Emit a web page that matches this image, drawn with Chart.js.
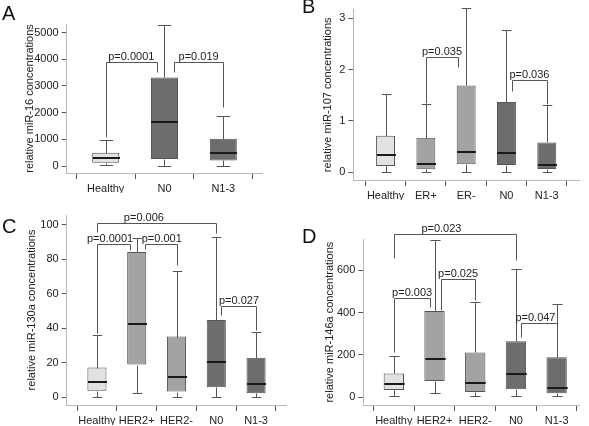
<!DOCTYPE html>
<html>
<head>
<meta charset="utf-8">
<script src="https://cdn.jsdelivr.net/npm/chart.js@4.4.0/dist/chart.umd.min.js"></script>
<style>
  html,body{margin:0;padding:0;background:#fff;}
  #wrap{position:relative;width:589px;height:426px;overflow:hidden;}
  #wrap canvas{position:absolute;left:0;top:0;}
  .tag{position:absolute;font:20px "Liberation Sans",Arial,sans-serif;line-height:20px;color:#111;}
</style>
</head>
<body>
<div id="wrap">
  <canvas id="chA" width="589" height="426"></canvas>
  <canvas id="chB" width="589" height="426"></canvas>
  <canvas id="chC" width="589" height="426"></canvas>
  <canvas id="chD" width="589" height="426"></canvas>
  <div class="tag" style="left:2px;top:3px">A</div>
  <div class="tag" style="left:302px;top:-4px">B</div>
  <div class="tag" style="left:2px;top:216px">C</div>
  <div class="tag" style="left:302px;top:226px">D</div>
</div>
<script>
// ---- data ----
// A: miR-16
const catsA = ['Healthy','N0','N1-3'];
const minA = [20, 10, 10];
const q1A = [125, 260, 210];
const medA = [290, 1630, 475];
const q3A = [500, 3320, 1020];
const maxA = [970, 5300, 1870];
const ticksA = [0, 1000, 2000, 3000, 4000, 5000];
// [from, to, level, left leg end, right leg end, text, label x]
const pA = [
  [0, 0.87, 3880, 1100, 3530, 'p=0.0001', 0.435],
  [1.16, 2, 3880, 3530, 2220, 'p=0.019', 1.58]
];

// B: miR-107
const catsB = ['Healthy','ER+','ER-','N0','N1-3'];
const minB = [0, 0, 0, 0, 0];
const q1B = [0.12, 0.055, 0.155, 0.14, 0.06];
const medB = [0.33, 0.15, 0.39, 0.38, 0.13];
const q3B = [0.71, 0.67, 1.69, 1.37, 0.58];
const maxB = [1.52, 1.32, 3.2, 2.78, 1.3];
const ticksB = [0, 1, 2, 3];
const pB = [
  [1, 1.81, 2.25, 1.34, 2.06, 'p=0.035', 1.40],
  [3.13, 4, 1.79, 1.58, 1.32, 'p=0.036', 3.57]
];

// C: miR-130a
const catsC = ['Healthy','HER2+','HER2-','N0','N1-3'];
const minC = [0.4, 2.7, 0.4, 0.4, 0.4];
const q1C = [3.7, 19, 3.3, 5.8, 2.3];
const medC = [9.1, 42.7, 11.8, 20.7, 7.5];
const q3C = [17.2, 84.3, 35.2, 44.9, 23];
const maxC = [36.2, 92.6, 73.1, 92.8, 38.1];
const ticksC = [0, 20, 40, 60, 80, 100];
const pC = [
  [0, 3, 101, 96, 95.2, 'p=0.006', 1.18],
  [0, 0.83, 88.8, 37.1, 85.5, 'p=0.0001', 0.33],
  [1.2, 2, 88.8, 85.9, 76.8, 'p=0.001', 1.63],
  [3.11, 4, 53, 47.8, 39, 'p=0.027', 3.57]
];

// D: miR-146a
const catsD = ['Healthy','HER2+','HER2-','N0','N1-3'];
const minD = [6, 22, 6, 6, 6];
const q1D = [35, 77, 25, 38, 19];
const medD = [63, 181, 68, 110, 42];
const q3D = [113, 407, 212, 264, 189];
const maxD = [195, 740, 448, 603, 438];
const ticksD = [0, 200, 400, 600];
const pD = [
  [0, 3, 770, 655, 647, 'p=0.023', 1.17],
  [0, 0.88, 470, 215, 427, 'p=0.003', 0.45],
  [1.15, 2, 558, 412, 459, 'p=0.025', 1.58],
  [3.13, 4, 352, 286, 255, 'p=0.047', 3.48]
];

const LIGHT = '#e2e2e2', MID = '#a3a3a3', DARK = '#6d6d6d';

Chart.defaults.font.family = '"Liberation Sans", Arial, sans-serif';
Chart.defaults.font.size = 11;
Chart.defaults.color = '#222';

// whiskers, medians and p-value brackets
const boxPlugin = {
  id: 'boxes',
  afterDatasetsDraw(chart, args, o) {
    const {ctx, scales: {x, y}} = chart;
    const meta = chart.getDatasetMeta(0);
    const px = v => Math.round(x.getPixelForValue(v)) + 0.5;
    const py = v => Math.round(y.getPixelForValue(v)) + 0.5;
    const seg = (x1, y1, x2, y2) => { ctx.beginPath(); ctx.moveTo(x1, y1); ctx.lineTo(x2, y2); ctx.stroke(); };
    ctx.save();
    o.max.forEach((mx, i) => {
      const cx = px(i), hw = meta.data[i].width / 2;
      ctx.strokeStyle = '#555'; ctx.lineWidth = 1;
      seg(cx, py(o.q3[i]), cx, py(mx));
      seg(cx, py(o.q1[i]), cx, py(o.min[i]));
      seg(cx - hw / 2, py(mx), cx + hw / 2, py(mx));
      seg(cx - hw / 2, py(o.min[i]), cx + hw / 2, py(o.min[i]));
      ctx.strokeStyle = '#1a1a1a'; ctx.lineWidth = 2;
      const my = Math.round(y.getPixelForValue(o.med[i]));
      seg(cx - hw, my, cx + hw, my);
    });
    ctx.strokeStyle = '#555'; ctx.lineWidth = 1;
    ctx.fillStyle = '#222';
    ctx.font = '11px "Liberation Sans", Arial, sans-serif';
    ctx.textAlign = 'center'; ctx.textBaseline = 'alphabetic';
    o.brackets.forEach(b => {
      const x1 = px(b[0]), x2 = px(b[1]), yl = py(b[2]);
      ctx.beginPath();
      ctx.moveTo(x1, py(b[3])); ctx.lineTo(x1, yl); ctx.lineTo(x2, yl); ctx.lineTo(x2, py(b[4]));
      ctx.stroke();
      ctx.fillText(b[5], x.getPixelForValue(b[6]), yl - 3);
    });
    ctx.restore();
  }
};

function makeChart(id, cats, mins, q1, med, q3, maxs, ticks, brackets, colors, L) {
  const yTitle = L.title;
  return new Chart(document.getElementById(id), {
    type: 'bar',
    data: {
      datasets: [{
        data: cats.map((c, i) => ({x: i, y: [q1[i], q3[i]]})),
        backgroundColor: colors,
        borderColor: '#555',
        borderWidth: 1,
        borderSkipped: false,
        categoryPercentage: 1,
        barPercentage: L.bar
      }]
    },
    options: {
      responsive: false,
      animation: false,
      events: [],
      layout: {padding: {left: L.titleX - 6.6, top: L.top, right: 589 - L.right, bottom: 426 - L.bottom - 20}},
      plugins: {
        legend: {display: false},
        tooltip: {enabled: false},
        boxes: {min: mins, q1: q1, med: med, q3: q3, max: maxs, brackets: brackets}
      },
      scales: {
        x: {
          type: 'linear', offset: false, min: L.xmin, max: L.xmax,
          afterBuildTicks: s => { s.ticks = cats.map((c, i) => ({value: i})); },
          afterFit: s => { s.height = 20; },
          ticks: {callback: v => cats[v], color: '#222', padding: 3, maxRotation: 0, autoSkip: false},
          grid: {drawOnChartArea: false, drawTicks: true, tickLength: 6, color: '#555'},
          border: {color: '#b8b8b8'}
        },
        y: {
          min: L.ymin, max: L.ymax,
          afterBuildTicks: s => { s.ticks = ticks.map(v => ({value: v})); },
          afterFit: s => { s.width = L.left - (L.titleX - 6.6); },
          ticks: {callback: v => String(v), color: '#222', padding: 3},
          grid: {drawOnChartArea: false, drawTicks: true, tickLength: 5, color: '#555'},
          border: {color: '#b8b8b8'},
          title: {display: true, text: yTitle, color: '#222', padding: 0, font: {size: 11}}
        }
      }
    },
    plugins: [boxPlugin]
  });
}

makeChart('chA', catsA, minA, q1A, medA, q3A, maxA, ticksA, pA, [LIGHT, DARK, DARK],
  {title: 'relative miR-16 concentrations', titleX: 30, left: 66.7, right: 262.7, top: 24, bottom: 173,
   ymin: -262, ymax: 5320, xmin: -0.663, xmax: 2.67, bar: 0.46});
makeChart('chB', catsB, minB, q1B, medB, q3B, maxB, ticksB, pB, [LIGHT, MID, MID, DARK, DARK],
  {title: 'relative miR-107 concentrations', titleX: 328, left: 353.3, right: 579, top: 0, bottom: 180,
   ymin: -0.153, ymax: 3.17, xmin: -0.8, xmax: 4.8, bar: 0.47});
makeChart('chC', catsC, minC, q1C, medC, q3C, maxC, ticksC, pC, [LIGHT, MID, MID, DARK, DARK],
  {title: 'relative miR-130a concentrations', titleX: 31.7, left: 66.7, right: 286.7, top: 215, bottom: 405,
   ymin: -4.5, ymax: 105.8, xmin: -0.76, xmax: 4.77, bar: 0.48});
makeChart('chD', catsD, minD, q1D, medD, q3D, maxD, ticksD, pD, [LIGHT, MID, MID, DARK, DARK],
  {title: 'relative miR-146a concentrations', titleX: 330, left: 363.3, right: 579, top: 239.3, bottom: 405,
   ymin: -36, ymax: 745, xmin: -0.75, xmax: 4.55, bar: 0.5});
</script>
</body>
</html>
